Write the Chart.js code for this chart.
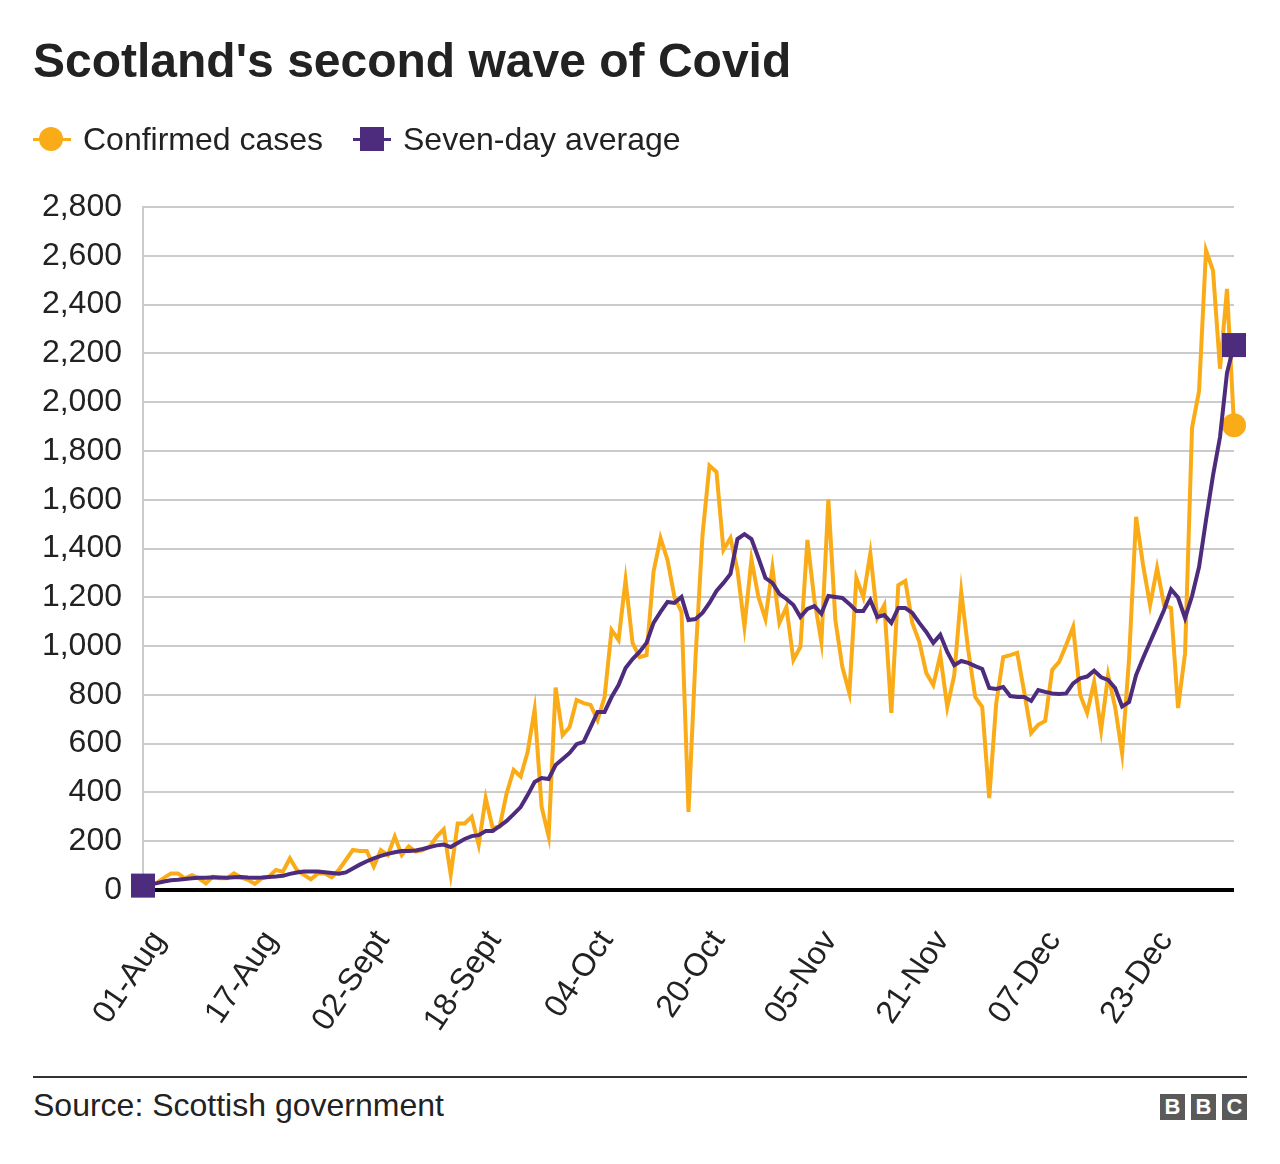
<!DOCTYPE html>
<html>
<head>
<meta charset="utf-8">
<script src="https://cdn.jsdelivr.net/npm/chart.js@4.4.0/dist/chart.umd.min.js"></script>
<style>
body { margin: 0; background: #fff; font-family: 'Liberation Sans', Arial, sans-serif; color: #222; }
#wrap { position: relative; width: 1280px; height: 1164px; overflow: hidden; }
#chartBox { position: absolute; left: 0; top: 0; width: 1280px; height: 1040px; }
.txt { position: absolute; line-height: 1; white-space: nowrap; }
#title { left: 33px; top: 37px; font-size: 48px; font-weight: bold; }
.legText { top: 123px; font-size: 32px; }
.legLine { position: absolute; height: 3px; top: 138px; }
#rule { position: absolute; left: 33px; top: 1076px; width: 1214px; height: 2px; background: #333; }
#source { left: 33px; top: 1089px; font-size: 32px; }
.bbc { position: absolute; top: 1094px; width: 25px; height: 26px; background: #5a5a5a; color: #fff;
       font-weight: bold; font-size: 22px; line-height: 26px; text-align: center; }
</style>
</head>
<body>
<div id="wrap">
  <div id="chartBox"><canvas id="covidChart"></canvas></div>

  <div id="title" class="txt">Scotland's second wave of Covid</div>

  <div class="legLine" style="left:33px;width:38px;background:#FAAB18"></div>
  <div style="position:absolute;left:39px;top:127px;width:24px;height:24px;border-radius:50%;background:#FAAB18"></div>
  <div class="txt legText" style="left:83px">Confirmed cases</div>

  <div class="legLine" style="left:353px;width:38px;background:#4E2C7D"></div>
  <div style="position:absolute;left:360px;top:127px;width:24px;height:24px;background:#4E2C7D"></div>
  <div class="txt legText" style="left:403px">Seven-day average</div>

  <div id="rule"></div>
  <div id="source" class="txt">Source: Scottish government</div>
  <div class="bbc" style="left:1160px">B</div>
  <div class="bbc" style="left:1191px">B</div>
  <div class="bbc" style="left:1222px">C</div>
</div>

<script>
// one value per day, 01-Aug to 04-Jan
const tickLabels = ['01-Aug', '17-Aug', '02-Sept', '18-Sept', '04-Oct', '20-Oct', '05-Nov', '21-Nov', '07-Dec', '23-Dec'];

const confirmedCases = [
    20, 22, 30, 50, 68, 68, 48, 61, 48, 27,
    55, 48, 48, 68, 52, 42, 25, 48, 55, 82,
    75, 130, 82, 62, 44, 68, 68, 52, 82, 123,
    164, 160, 160, 96, 164, 143, 219, 143, 178, 157,
    164, 178, 219, 249, 64, 273, 273, 300, 185, 377,
    254, 260, 397, 492, 465, 566, 740, 340, 220, 830,
    635, 668, 779, 766, 759, 697, 791, 1066, 1025, 1270,
    1013, 955, 963, 1305, 1443, 1353, 1200, 1140, 320, 950,
    1455, 1740, 1714, 1394, 1443, 1310, 1080, 1355, 1201, 1111,
    1320, 1095, 1160, 943, 996, 1435, 1189, 1017, 1600, 1107,
    914, 808, 1279, 1201, 1380, 1115, 1168, 726, 1250, 1267,
    1095, 1017, 890, 840, 963, 750, 881, 1222, 984, 791,
    750, 377, 766, 955, 963, 972, 812, 644, 677, 693,
    902, 935, 1004, 1078, 800, 726, 853, 656, 881, 750,
    560, 950, 1530, 1332, 1168, 1320, 1168, 1156, 746, 970,
    1895, 2045, 2622, 2539, 2137, 2464, 1905
];

const sevenDayAverage = [
    18, 22, 28, 35, 40, 42, 45, 48, 50, 50,
    52, 51, 50, 52, 53, 51, 50, 51, 53, 55,
    58, 66, 72, 76, 76, 76, 73, 70, 67, 72,
    88, 104, 118, 130, 140, 148, 155, 160, 160, 162,
    168, 176, 183, 186, 176, 193, 209, 221, 225, 242,
    242, 262, 283, 311, 340, 389, 443, 459, 455, 512,
    537, 562, 598, 607, 668, 730, 730, 791, 840, 910,
    947, 976, 1013, 1095, 1140, 1181, 1177, 1201, 1107, 1111,
    1136, 1177, 1226, 1259, 1296, 1439, 1459, 1439, 1361, 1279,
    1259, 1214, 1193, 1168, 1119, 1152, 1164, 1132, 1205, 1201,
    1197, 1173, 1144, 1144, 1189, 1119, 1127, 1095, 1156, 1156,
    1136, 1095, 1058, 1013, 1046, 976, 922, 939, 931, 918,
    906, 828, 824, 832, 795, 791, 791, 775, 820, 812,
    806, 804, 806, 847, 868, 875, 899, 872, 861, 828,
    752, 771, 881, 951, 1017, 1082, 1148, 1232, 1199, 1115,
    1205, 1324, 1517, 1700, 1857, 2120, 2234
];

const days = confirmedCases.map((v, i) => 'day ' + i);
const lastIndex = confirmedCases.length - 1;

const ctx = document.getElementById('covidChart').getContext('2d');
const covidChart = new Chart(ctx, {
    type: 'line',
    data: {
        labels: days,
        datasets: [{
            label: 'Seven-day average',
            data: sevenDayAverage,
            borderColor: '#4E2C7D',
            backgroundColor: '#4E2C7D',
            borderWidth: 4,
            tension: 0,
            clip: false,
            pointStyle: 'rect',
            pointBorderWidth: 0,
            pointRadius: c => (c.dataIndex === 0 || c.dataIndex === lastIndex) ? 17 : 0
        }, {
            label: 'Confirmed cases',
            data: confirmedCases,
            borderColor: '#FAAB18',
            backgroundColor: '#FAAB18',
            borderWidth: 4,
            tension: 0,
            clip: false,
            pointStyle: 'circle',
            pointBorderWidth: 0,
            pointRadius: c => c.dataIndex === lastIndex ? 12 : 0
        }]
    },
    options: {
        responsive: true,
        maintainAspectRatio: false,
        devicePixelRatio: 1,
        animation: false,
        layout: { padding: { left: 0, right: 46, top: 207, bottom: 0 } },
        plugins: { legend: { display: false }, tooltip: { enabled: false } },
        scales: {
            x: {
                grid: { display: false },
                border: { display: false },
                afterFit: function (scale) {
                    scale.height = 150;
                    scale.paddingLeft = 0;
                    scale.paddingRight = 0;
                },
                ticks: {
                    autoSkip: false,
                    minRotation: 56,
                    maxRotation: 56,
                    labelOffset: 16,
                    padding: 26,
                    color: '#222',
                    font: { family: 'Liberation Sans', size: 32 },
                    callback: function (value, index) {
                        return index % 16 === 0 ? tickLabels[index / 16] : '';
                    }
                }
            },
            y: {
                min: 0,
                max: 2800,
                afterFit: function (scale) { scale.width = 143; },
                border: { display: true, color: '#cbcbcb', width: 2 },
                grid: {
                    drawTicks: false,
                    color: c => c.tick.value === 0 ? '#000' : '#cbcbcb',
                    lineWidth: c => c.tick.value === 0 ? 4 : 2
                },
                ticks: {
                    stepSize: 200,
                    padding: 21,
                    color: '#222',
                    font: { family: 'Liberation Sans', size: 32 },
                    callback: v => v.toLocaleString('en-US')
                }
            }
        }
    }
});
</script>
</body>
</html>
